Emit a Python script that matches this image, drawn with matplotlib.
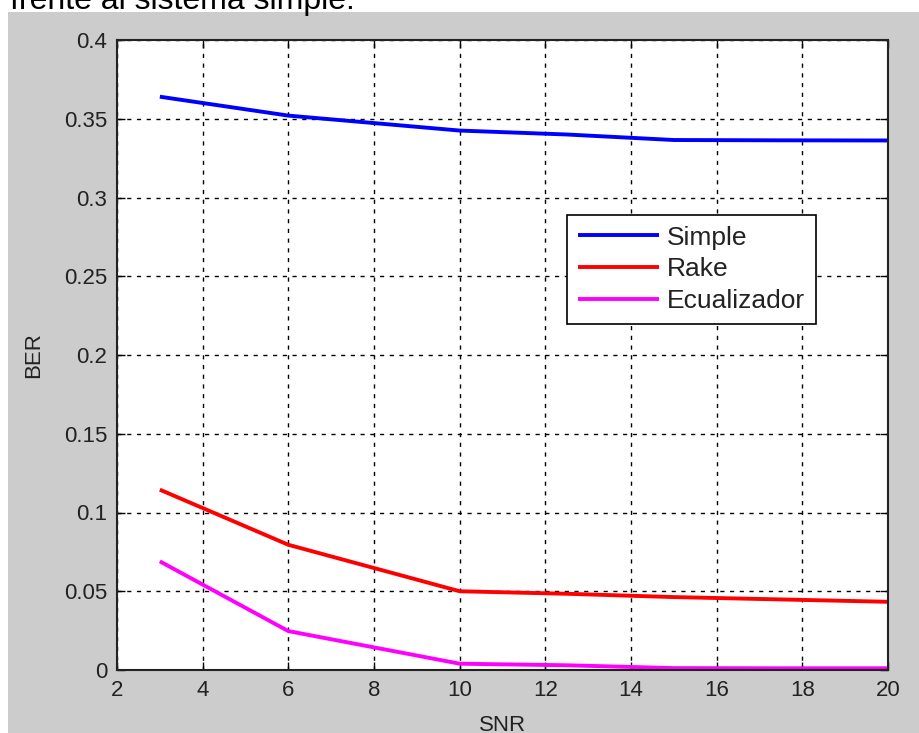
import matplotlib
matplotlib.use("Agg")
import matplotlib.pyplot as plt

# BER versus SNR for the three receivers
snr = [3, 6, 10, 12.5, 15, 17.5, 20]
ber_simple = [0.364, 0.352, 0.3425, 0.3400, 0.3365, 0.3363, 0.3362]
ber_rake = [0.1145, 0.0795, 0.0500, 0.0484, 0.0463, 0.0448, 0.0433]
ber_ecualizador = [0.069, 0.0247, 0.0040, 0.0030, 0.0012, 0.0011, 0.0011]
series_labels = ["Simple", "Rake", "Ecualizador"]

xticks = [2, 4, 6, 8, 10, 12, 14, 16, 18, 20]
yticks = [0, 0.05, 0.1, 0.15, 0.2, 0.25, 0.3, 0.35, 0.4]
ytick_labels = ["0", "0.05", "0.1", "0.15", "0.2", "0.25", "0.3", "0.35", "0.4"]

plt.rcParams["font.family"] = ["Liberation Sans", "DejaVu Sans"]

W, H = 919, 733
fig = plt.figure(figsize=(W / 100, H / 100), dpi=100, facecolor="white")

# grey figure panel below the running text line
bg = fig.add_axes([8 / W, 0, 1 - 8 / W, 1 - 12 / H], zorder=0)
bg.set_facecolor("#cccccc")
bg.set_xticks([])
bg.set_yticks([])
for s in bg.spines.values():
    s.set_visible(False)

fig.text(10 / W, 1 - 9 / H, "frente al sistema simple.", fontsize=23,
         ha="left", va="baseline", color="black")

ax = fig.add_axes([117 / W, (H - 670) / H, 771 / W, 630 / H], zorder=2)
ax.set_facecolor("white")

ax.plot(snr, ber_simple, color=(0, 0, 1), lw=2.8, label=series_labels[0], solid_capstyle="butt")
ax.plot(snr, ber_rake, color=(1, 0, 0), lw=2.8, label=series_labels[1], solid_capstyle="butt")
ax.plot(snr, ber_ecualizador, color=(1, 0, 1), lw=2.8, label=series_labels[2], solid_capstyle="butt")

ax.set_xlim(2, 20)
ax.set_ylim(0, 0.4)
ax.set_xticks(xticks)
ax.set_yticks(yticks)
ax.set_yticklabels(ytick_labels)
ax.tick_params(direction="in", length=6, width=1, top=True, right=True,
               labelsize=16, colors="black", pad=7)
for lab in ax.get_xticklabels() + ax.get_yticklabels():
    lab.set_color("#222222")
ax.grid(True, color="black", linestyle=(0, (3, 4)), linewidth=1)
for s in ax.spines.values():
    s.set_linewidth(1.5)
    s.set_color("#222222")

ax.set_xlabel("SNR", fontsize=16, labelpad=10, color="#222222")
ax.set_ylabel("BER", fontsize=16, labelpad=14, color="#222222")

leg = ax.legend(loc="upper left", bbox_to_anchor=((567 - 117) / 771, (670 - 215) / 630),
                fontsize=19, frameon=True, fancybox=False, framealpha=1,
                edgecolor="black", handlelength=3.1, handletextpad=0.3,
                borderpad=0.4, labelspacing=0.3, borderaxespad=0)
leg.get_frame().set_linewidth(1.2)
for t in leg.get_texts():
    t.set_color("#222222")

fig.savefig("out.png", dpi=100, facecolor=fig.get_facecolor())
